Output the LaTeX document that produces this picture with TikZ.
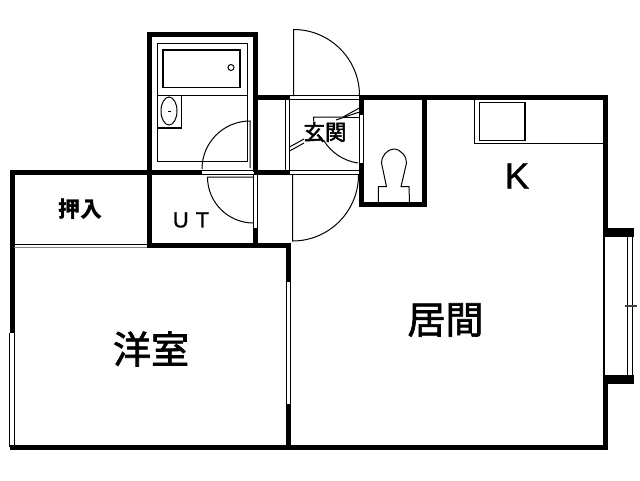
\documentclass[tikz,border=0pt]{standalone}
\usepackage{fontspec}
\setmainfont{Liberation Sans}
\newfontfamily\cjk{Noto Sans CJK JP}
\newfontfamily\cjkheavy[RawFeature={embolden=1.8}]{Noto Sans CJK JP}
\newfontfamily\cjkmid[RawFeature={embolden=2.4}]{Noto Sans CJK JP}
\newfontfamily\latinheavy[RawFeature={embolden=0.8}]{Liberation Sans}
\tikzset{
  wall/.style={line width=5pt,line cap=butt},
  thin/.style={line width=1pt},
  hair/.style={line width=1.3pt},
  lbl/.style={inner sep=0pt,text=black},
}
\begin{document}
\begin{tikzpicture}[x=1pt,y=-1pt]
\useasboundingbox (0,0) rectangle (640,480);
\fill[white] (0,0) rectangle (640,480);
% thick walls
\draw[wall,line join=miter] (202,172) -- (9.5,172);
\draw[wall] (254,172) -- (290,172);
\draw[wall,miter limit=10] (12,170) -- (12,333);
\draw[wall] (149.5,32) -- (149.5,248);
\draw[wall] (147,34.3) -- (255.7,34.3) -- (255.7,172);
\draw[wall] (255.7,228) -- (255.7,248);
\draw[wall] (147,245.5) -- (290.5,245.5);
\draw[wall] (288,243) -- (288,282);
\draw[wall] (288,404) -- (288,449.5);
\draw[wall] (9.5,447) -- (608,447);
\draw[wall] (253.2,97.3) -- (290,97.3);
\draw[wall] (359.2,97.3) -- (608,97.3);
\draw[wall] (605.6,94.8) -- (605.6,230);
\draw[wall] (605.6,382) -- (605.6,449.5);
\draw[line width=2pt] (604,230) -- (604,382);
\draw[wall] (361.6,97) -- (361.6,115);
\draw[wall] (361.6,163) -- (361.6,206.7);
\draw[wall] (359.1,204.2) -- (427.3,204.2);
\draw[wall] (424.8,97) -- (424.8,206.7);
% window
\fill (603,228) rectangle (634,237);
\fill (603,375) rectangle (634,384);
\draw[thin] (627.3,237) -- (627.3,375);
\draw[thin] (632.8,237) -- (632.8,375);
\draw[hair,gray!50!black] (625,306) -- (637,306);
% thin double lines
\draw[thin] (202,170.3) -- (254,170.3);
\draw[thin] (202,174) -- (254,174);
\draw[thin] (253.4,174) -- (253.4,228);
\draw[thin] (257.4,174) -- (257.4,228);
\draw[thin] (290,95.6) -- (359.4,95.6);
\draw[thin] (290,99.3) -- (359.4,99.3);
\draw[thin] (285.8,99) -- (285.8,170);
\draw[thin] (289.5,99) -- (289.5,170);
\draw[thin] (290,170.5) -- (359.4,170.5);
\draw[thin] (290,174) -- (359.4,174);
\draw[thin] (359.4,115) -- (359.4,163);
\draw[thin] (363.5,115) -- (363.5,163);
\draw[thin] (14,244) -- (147.2,244);
\draw[thin,gray] (14,247.5) -- (147.2,247.5);
\draw[thin] (9.9,333) -- (9.9,447);
\draw[thin] (14.3,333) -- (14.3,447);
\draw[thin] (286,282) -- (286,404);
\draw[thin] (290,282) -- (290,404);
% bath
\draw[thin] (157.3,43.3) rectangle (247.3,161.7);
\draw[thin] (157.3,95.3) -- (247.3,95.3);
\draw[hair] (163,50) rectangle (240,87.5);
\draw[thin] (231,67.5) circle[radius=3];
\draw[hair] (157.3,95.3) rectangle (181.5,128);
\draw[thin] (169,111) ellipse[x radius=8,y radius=14];
\fill (167.5,110.5) rectangle (170.5,112);
% bath and UT doors
\draw[thin] (250,168) -- (250,121) arc[start angle=-90,end angle=-180,radius=48];
\draw[thin] (254,177) -- (207.5,177) arc[start angle=180,end angle=90,radius=46];
% entrance doors
\draw[thin] (293.5,96) -- (293.5,29.5) arc[start angle=-90,end angle=0,radius=66];
\draw[thin] (292.5,174) -- (292.5,241) arc[start angle=90,end angle=0,radius=66];
\draw[thin] (358,163) arc[start angle=98,end angle=149,radius=48];
% step lines
\draw[thin] (313.5,121) -- (313.5,117) -- (343,117) -- (359.4,108);
\draw[thin] (336,120) -- (359.4,112);
\draw[thin] (343,117) -- (359.4,117);
\draw[thin] (289.5,147) -- (304,139);
\draw[thin] (289.5,151) -- (304,143);
% kitchen
\draw[thin] (474.3,99) -- (474.3,143.5) -- (603.3,143.5);
\draw[hair] (479.3,102.7) rectangle (525,140.7);
% toilet
\draw[thin] (378.3,202) -- (378.5,186.7) -- (386.5,186.7) -- (381.5,163)
  .. controls (381,157) and (387,149) .. (393.7,149)
  .. controls (401,149) and (407,157) .. (406.5,163)
  -- (401,186.7) -- (409,186.7) -- (409.5,202);
% labels
\node[lbl,font=\cjkheavy\fontsize{38}{38}\selectfont] (yoshitsu) at (151,349) {洋室};
\node[lbl,font=\cjkheavy\fontsize{38}{38}\selectfont] (ima) at (445.5,320) {居間};
\node[lbl,font=\latinheavy\fontsize{37}{37}\selectfont] (kitchen) at (517,176) {K};
\node[lbl,font=\cjk\bfseries\fontsize{22}{22}\selectfont] (oshiire) at (80,209) {押入};
\node[lbl,font=\latinheavy\fontsize{22}{22}\selectfont] (ut) at (191,220) {U\hspace{7pt}T};
\node[lbl,font=\cjkmid\fontsize{21.5}{21.5}\selectfont] (genkan) at (325,132) {玄関};
\end{tikzpicture}
\end{document}
